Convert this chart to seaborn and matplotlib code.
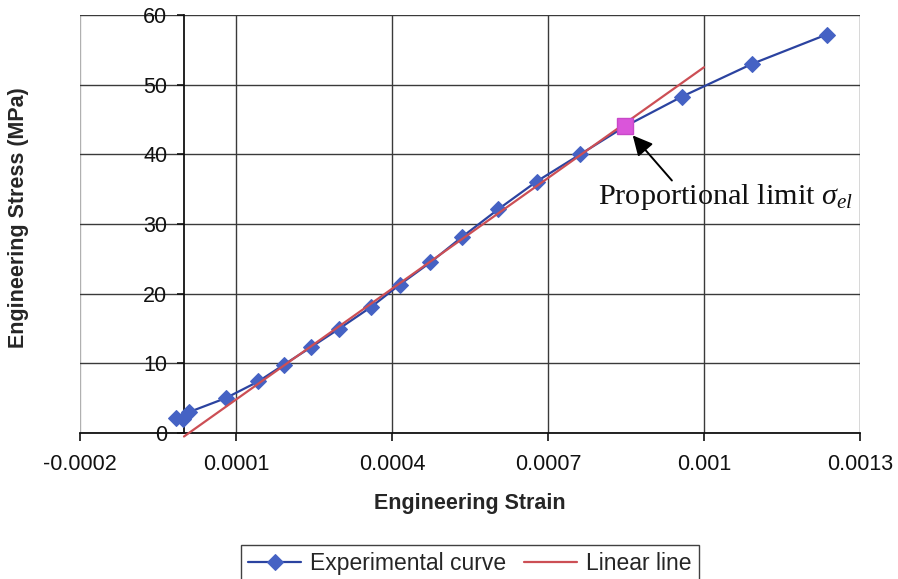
import matplotlib
matplotlib.use("Agg")
import matplotlib.pyplot as plt
import seaborn as sns
import pandas as pd

# Measured stress-strain response
strain = [-0.000016, -0.0000025, 0.0000096, 0.000080, 0.000143, 0.000192,
          0.000244, 0.000299, 0.000360, 0.000415, 0.000474, 0.000534,
          0.000604, 0.000678, 0.000762, 0.000848, 0.000958, 0.001093, 0.001236]
stress = [2.2, 2.0, 3.0, 5.0, 7.4, 9.8, 12.3, 15.0, 18.1, 21.3, 24.5, 28.1,
          32.1, 36.1, 40.0, 44.0, 48.3, 53.0, 57.2]

# Linear (elastic) fit
linear_strain = [0.0, 0.001]
linear_stress = [-0.5, 52.5]

# Index of the proportional limit within the measured curve
pl_index = 15

x_ticks = [-0.0002, 0.0001, 0.0004, 0.0007, 0.001, 0.0013]
x_tick_labels = ["-0.0002", "0.0001", "0.0004", "0.0007", "0.001", "0.0013"]
y_ticks = [0, 10, 20, 30, 40, 50, 60]

sns.set_style("white")
plt.rcParams["font.family"] = ["Liberation Sans", "DejaVu Sans"]
plt.rcParams["mathtext.fontset"] = "custom"
plt.rcParams["mathtext.rm"] = "Liberation Serif"
plt.rcParams["mathtext.it"] = "Liberation Serif:italic"

fig = plt.figure(figsize=(8.98, 5.79), dpi=100)
ax = fig.add_axes([80 / 898, 1 - 433 / 579, 780 / 898, 418 / 579])

exp_df = pd.DataFrame({"strain": strain, "stress": stress})
lin_df = pd.DataFrame({"strain": linear_strain, "stress": linear_stress})

blue_line = "#2B43A0"
blue_marker = "#4562C4"
red_line = "#CC4F55"

sns.lineplot(data=exp_df, x="strain", y="stress", ax=ax, sort=False,
             estimator=None, color=blue_line, lw=1.6, marker="D",
             markersize=8, markerfacecolor=blue_marker,
             markeredgecolor=blue_marker, label="Experimental curve", zorder=3)
sns.lineplot(data=lin_df, x="strain", y="stress", ax=ax, sort=False,
             estimator=None, color=red_line, lw=1.6, label="Linear line",
             zorder=4, clip_on=False)

pl_strain = strain[pl_index]
pl_stress = stress[pl_index]
ax.plot([pl_strain], [pl_stress], marker="s", markersize=11,
        color="#DA55DA", markeredgecolor="#C848C8", ls="none", zorder=5)

ax.set_xlim(x_ticks[0], x_ticks[-1])
ax.set_ylim(y_ticks[0], y_ticks[-1])
ax.set_xticks(x_ticks)
ax.set_xticklabels(x_tick_labels)
ax.set_yticks(y_ticks)

ax.grid(True, color="#3A3A3A", lw=1.0)
ax.xaxis.get_gridlines()[0].set_color("#B0B0B0")
ax.yaxis.get_gridlines()[-1].set_color("#A0A0A0")

ax.spines["left"].set_position(("data", 0))
ax.spines["left"].set_color("#111111")
ax.spines["left"].set_linewidth(1.3)
ax.spines["bottom"].set_color("#111111")
ax.spines["bottom"].set_linewidth(1.3)
ax.spines["top"].set_visible(False)
ax.spines["right"].set_visible(False)

ax.tick_params(axis="x", direction="out", length=6, width=1.2, pad=9,
               labelsize=15.5, colors="#111111", bottom=True)
ax.tick_params(axis="y", direction="out", length=5, width=1.2, pad=7,
               labelsize=15.5, colors="#111111", left=True)

ax.set_xlabel("Engineering Strain", fontsize=15.5, fontweight="bold")
ax.xaxis.set_label_coords(0.5, (433 - 493) / 418)
ax.set_ylabel("Engineering Stress (MPa)", fontsize=15.5, fontweight="bold")
ax.yaxis.set_label_coords((29 - 80) / 780, (433 - 218) / 418)

# Proportional limit annotation
ax.annotate("", xy=(pl_strain, pl_stress), xytext=(33.8, -38.9),
            textcoords="offset points",
            arrowprops=dict(arrowstyle="-|>", color="black", lw=1.4,
                            mutation_scale=30, shrinkA=0, shrinkB=8.5),
            zorder=6)
ax.annotate(r"Proportional limit $\sigma_{el}$", xy=(pl_strain, pl_stress),
            xytext=(-19.6, -55.5), textcoords="offset points",
            ha="left", va="baseline", fontsize=21.8,
            family=["Liberation Serif", "DejaVu Serif"], color="#111111",
            zorder=6)

leg = ax.legend(loc="upper center", bbox_to_anchor=(0.5, (433 - 545) / 418),
                ncol=2, fontsize=16.5, frameon=True, fancybox=False,
                edgecolor="#111111", handlelength=2.3, handletextpad=0.4,
                columnspacing=0.8, borderpad=0.3, borderaxespad=0)
leg.get_frame().set_linewidth(1.0)

fig.savefig("out.png", dpi=100)
